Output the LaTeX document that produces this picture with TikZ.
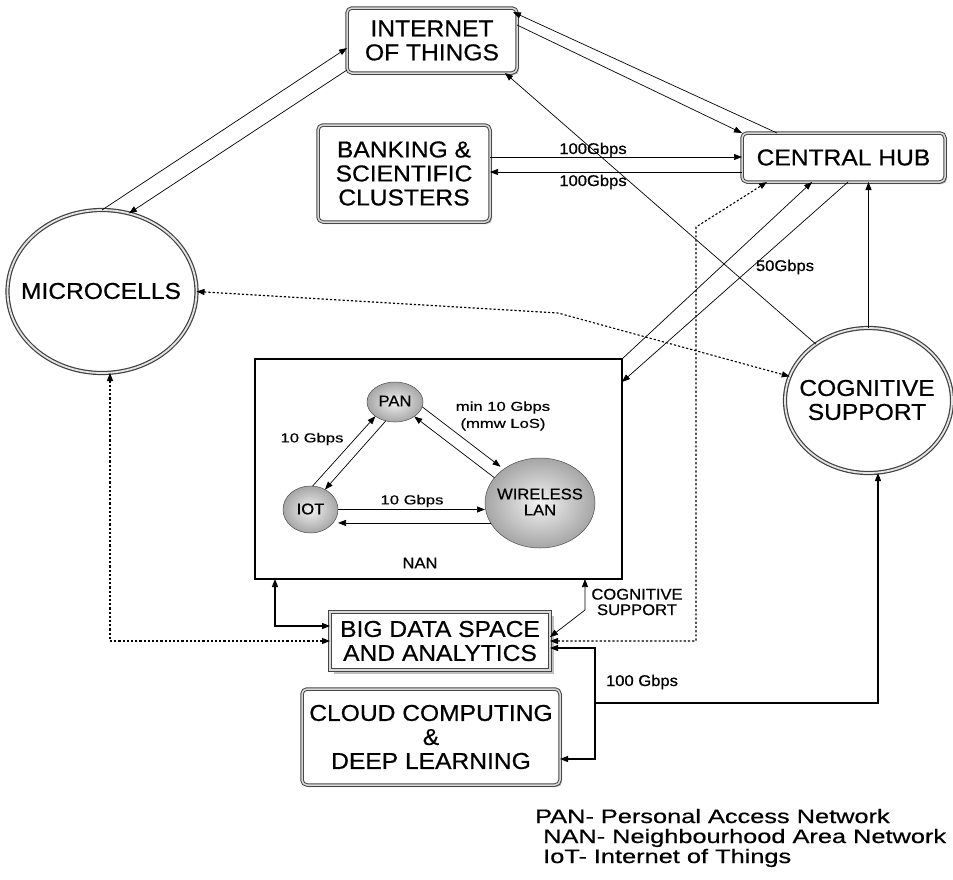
\documentclass[tikz,border=0pt]{standalone}
\usepackage{fontspec}
\setmainfont{Liberation Sans}
\newfontfamily\labelfont[FakeStretch=1.07,FakeBold=0.6]{Liberation Sans}
\newfontfamily\widefont[FakeStretch=1.28,FakeBold=0.6]{Liberation Sans}
\newfontfamily\legendfont[FakeStretch=1.3,FakeBold=0.6]{Liberation Sans}
\usetikzlibrary{arrows.meta,shapes.geometric,shadows}

\newcommand\lblbig{\labelfont\fontsize{23}{24}\selectfont}
\newcommand\lblmid{\labelfont\fontsize{15.5}{15.5}\selectfont}
\newcommand\lblball{\labelfont\fontsize{15.5}{16}\selectfont}
\newcommand\lblsmall{\widefont\fontsize{13}{17}\selectfont}
\newcommand\lbllegend{\legendfont\fontsize{19.5}{20}\selectfont}

\begin{document}
\begin{tikzpicture}[x=1pt,y=-1pt,
  >={Triangle[length=8pt,width=6pt]},
  panel/.style={rectangle, rounded corners=5pt, draw=gray!55!black, line width=1pt,
    double=gray!30, double distance=1.5pt, fill=white, inner sep=0pt, outer sep=0pt,
    align=center, font=\lblbig,
    general shadow={fill=gray!55, shadow xshift=2pt, shadow yshift=-2pt}},
  slab/.style={rectangle, draw=gray!55!black, line width=1pt,
    double=gray!30, double distance=1.5pt, fill=white, inner sep=0pt, outer sep=0pt,
    align=center, font=\lblbig,
    general shadow={fill=gray!50, shadow xshift=4pt, shadow yshift=-4pt}},
  ring/.style={ellipse, draw=gray!50!black, line width=1.2pt, double=gray!20,
    double distance=1.8pt, fill=white, inner sep=0pt, outer sep=0pt},
  ball/.style={ellipse, draw=gray!60!black, line width=0.5pt, inner color=gray!10,
    outer color=gray!70, inner sep=0pt, outer sep=0pt},
  txt/.style={inner sep=0pt, align=center},
  link/.style={line width=0.7pt},
  trunk/.style={line width=1.1pt},
  dots/.style={line width=1.1pt, dash pattern=on 2.2pt off 2pt},
]
\useasboundingbox (0,0) rectangle (953,879);

% ---------- main blocks ----------
\node[panel, minimum width=170pt, minimum height=65pt] (iotbox) at (432,40.5) {INTERNET\\OF THINGS};
\node[panel, minimum width=172pt, minimum height=97pt] (bank) at (404,173.5) {BANKING \&\\SCIENTIFIC\\CLUSTERS};
\node[panel, minimum width=203pt, minimum height=49pt] (hub) at (843.5,157.5) {CENTRAL HUB};
\node[ring, minimum width=189pt, minimum height=163pt] (mic) at (102,291.5) {};
\node[txt, font=\lblbig] (miclabel) at (101,291) {MICROCELLS};
\node[ring, minimum width=167pt, minimum height=145pt] (cog) at (868.5,400.5) {};
\node[txt, font=\lblbig] (coglabel) at (867,400) {COGNITIVE\\SUPPORT};
\node[slab, minimum width=220pt, minimum height=58pt] (bigd) at (440,641) {BIG DATA SPACE\\AND ANALYTICS};
\node[panel, minimum width=258pt, minimum height=96pt] (cloud) at (431,737) {CLOUD COMPUTING\\\&\\DEEP LEARNING};

% ---------- neighbourhood area network ----------
\node[draw, line width=1.1pt, minimum width=367pt, minimum height=220pt, inner sep=0pt, outer sep=0pt] (nan) at (438.5,469) {};
\node[ball, minimum width=56pt, minimum height=40pt] (pan) at (395,402) {};
\node[ball, minimum width=55pt, minimum height=47pt] (iotn) at (310.5,509.5) {};
\node[ball, minimum width=110pt, minimum height=90pt] (wlan) at (540,503) {};
\node[txt, font=\lblball] (panlabel) at (395,401) {PAN};
\node[txt, font=\lblball] (iotnlabel) at (310.5,509) {IOT};
\node[txt, font=\lblball] (wlanlabel) at (540,502) {WIRELESS\\LAN};
\node[txt, font=\lblball] (nanlabel) at (420,563) {NAN};

\draw[link,->] (iotn.85) -- (pan.216);
\draw[link,->] (pan.244) -- (iotn.54);
\draw[link,->,shorten >=4pt] (pan.350) -- (wlan.137);
\draw[link,->] (wlan.151) -- (pan.323);
\draw[link,->] (iotn.east) -- (wlan.west |- iotn.east);
\draw[link,->] (wlan.202) -- (iotn.east |- wlan.202);
\node[txt, font=\lblsmall] (lblipan) at (312,439) {10 Gbps};
\node[txt, font=\lblsmall] (lblpanw) at (503,416) {min 10 Gbps\\(mmw LoS)};
\node[txt, font=\lblsmall] (lbliw) at (412,501) {10 Gbps};

% ---------- links around the backbone ----------
\draw[link,->] (mic.north) -- (iotbox.west |- 0,48);
\draw[link,->] (iotbox.west |- 0,70) -- (mic.71);
\draw[link,->] (iotbox.east |- 0,25) -- (hub.north west);
\draw[link,->] (777,0 |- hub.north) -- ([shift={(-4,4)}]iotbox.north east);
\draw[link,->] (bank.east |- 0,157) -- (hub.west |- 0,157);
\draw[link,->] (hub.west |- 0,172) -- (bank.east |- 0,172);
\node[txt, font=\lblmid] (lblbank1) at (593,150) {100Gbps};
\node[txt, font=\lblmid] (lblbank2) at (593,182) {100Gbps};
\draw[link,->] (cog.133) -- (505,0 |- iotbox.south);
\draw[link,->] (nan.north east) -- (812,0 |- hub.south);
\draw[link,->] (848,0 |- hub.south) -- (nan.east |- 0,382);
\node[txt, font=\lblmid] (lblhub) at (785,267) {50Gbps};
\draw[trunk,->] (cog.north) -- (cog.north |- hub.south);

% dotted signalling paths
\draw[dots,<->] (mic.east) -- (558,313) -- (cog.163);
\draw[dots,<->] (bigd.east |- 0,641) -- (696,641) -- (696,227) -- (767,0 |- hub.south);
\draw[dots,<->] (bigd.west |- 0,641) -- (110,641) -- (110,0 |- mic.south);

% big data links
\draw[trunk,<->] (275,0 |- nan.south) -- (275,626) -- (bigd.west |- 0,626);
\draw[link,<->] (585,0 |- nan.south) -- (585,610) -- (bigd.east |- 0,637);
\node[txt, font=\lblmid] (lblcog) at (637,602) {COGNITIVE\\SUPPORT};
\draw[trunk,<-] (878,0 |- cog.south) -- (878,703) -- (595,703);
\draw[trunk,<->] (bigd.east |- 0,648) -| (595,759) -- (cloud.east |- 0,759);
\node[txt, font=\lblmid] (lblcloud) at (642,682) {100 Gbps};

% ---------- abbreviations ----------
\node[anchor=base west, inner sep=0pt, font=\lbllegend] (leg1) at (535,823) {PAN- Personal Access Network};
\node[anchor=base west, inner sep=0pt, font=\lbllegend] (leg2) at (543,843) {NAN- Neighbourhood Area Network};
\node[anchor=base west, inner sep=0pt, font=\lbllegend] (leg3) at (543,863) {IoT- Internet of Things};
\end{tikzpicture}
\end{document}
